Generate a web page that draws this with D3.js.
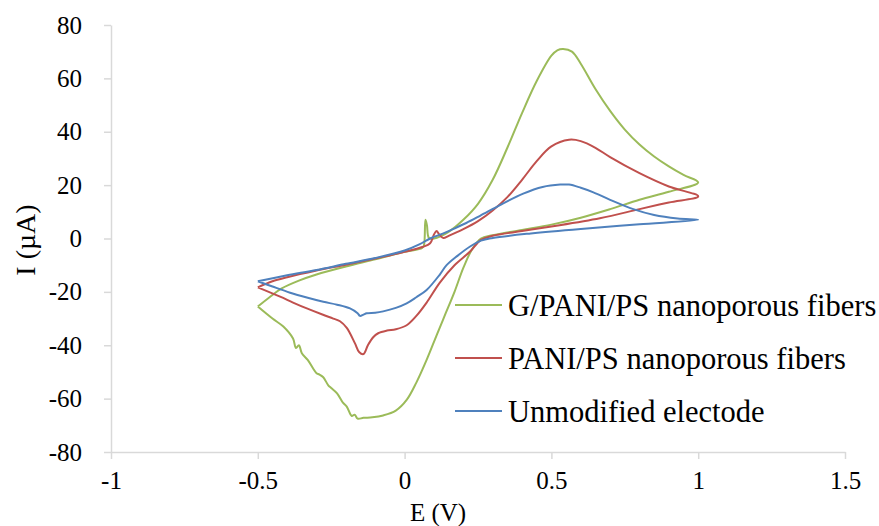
<!DOCTYPE html>
<html>
<head>
<meta charset="utf-8">
<script src="https://cdn.jsdelivr.net/npm/d3@7"></script>
<style>
  html, body { margin: 0; padding: 0; background: #fff; }
  svg { display: block; }
  svg text { font-family: "Liberation Serif", "Times New Roman", Times, "DejaVu Serif", serif; }
</style>
</head>
<body>
<svg id="chart" width="879" height="526"></svg>
<script>
// Cyclic voltammograms: [E (V), I (µA)] in scan order
const gPaniPs = [
  [-0.5,-25.5],[-0.46,-22],[-0.42,-18.8],[-0.36,-15.8],[-0.3,-13.5],[-0.2,-10.5],[-0.1,-7.8],[0,-5],
  [0.06,-3.5],[0.066,-2.5],[0.071,7],[0.076,5],[0.083,0.2],[0.1,0],[0.15,2.5],[0.2,7],[0.25,13],
  [0.3,22],[0.35,34],[0.4,47],[0.45,59],[0.5,68.5],[0.52,70.5],[0.54,71],[0.57,70],[0.6,65.5],
  [0.65,56],[0.7,47.8],[0.75,40.8],[0.8,35.2],[0.85,30.7],[0.9,27],[0.95,23.8],[1.0,21],
  [0.9,17.5],[0.8,14.5],[0.7,11],[0.6,7.8],[0.5,5.2],[0.4,3.2],[0.3,1.2],[0.26,0],[0.23,-4],
  [0.2,-11],[0.17,-20],[0.14,-28],[0.11,-36],[0.075,-45.5],[0.04,-54],[0.007,-60.5],[-0.03,-64.5],
  [-0.073,-66.3],[-0.11,-67],[-0.14,-67.2],[-0.16,-67.5],[-0.17,-66],[-0.18,-66.5],[-0.197,-63],
  [-0.21,-61.5],[-0.23,-58],[-0.25,-56],[-0.26,-55],[-0.277,-52],[-0.29,-51],[-0.3,-50.5],
  [-0.31,-49],[-0.33,-45.5],[-0.35,-43],[-0.36,-40],[-0.37,-41],[-0.38,-37.5],[-0.413,-33],
  [-0.45,-30],[-0.5,-25.5]
];
const paniPs = [
  [-0.5,-18.3],[-0.45,-16],[-0.4,-14.5],[-0.3,-12],[-0.2,-9.8],[-0.1,-7.5],[0,-5],[0.06,-3.2],
  [0.087,-1.8],[0.1,1.5],[0.109,2.8],[0.118,1.5],[0.132,0.2],[0.15,1],[0.2,3.5],[0.25,6.5],
  [0.3,10.5],[0.35,15.5],[0.4,22],[0.45,29],[0.5,34.5],[0.56,37],[0.6,36.5],[0.65,34],
  [0.7,30.5],[0.8,24.5],[0.9,19.5],[1.0,15.8],
  [0.9,13.5],[0.8,11],[0.665,7.6],[0.5,4.5],[0.4,2.8],[0.3,1],[0.26,-0.5],[0.223,-4.9],
  [0.17,-10],[0.12,-16.5],[0.075,-24],[0.04,-29],[0.007,-32.5],[-0.03,-34],[-0.06,-34.5],
  [-0.09,-35.5],[-0.107,-37],[-0.125,-40],[-0.14,-43.3],[-0.155,-42.5],[-0.169,-39.3],
  [-0.197,-33.5],[-0.22,-31],[-0.243,-30],[-0.28,-28.5],[-0.333,-26.2],[-0.38,-24],
  [-0.424,-21.8],[-0.5,-18.3]
];
const unmodified = [
  [-0.5,-16],[-0.4,-13.8],[-0.3,-11.8],[-0.2,-9.5],[-0.1,-7.3],[0,-4.5],[0.05,-2.2],[0.087,0],
  [0.13,1.8],[0.165,3.5],[0.21,5.8],[0.257,8.5],[0.33,12.8],[0.404,16.8],[0.47,19.3],[0.53,20.2],
  [0.56,20.2],[0.6,19],[0.643,17.3],[0.7,14.5],[0.779,11],[0.85,8.8],[0.93,7.5],[1.0,7],
  [0.8,5.3],[0.6,3.6],[0.43,1.9],[0.3,0.2],[0.26,-0.8],[0.223,-3],[0.18,-6.5],[0.143,-10],
  [0.12,-13.5],[0.075,-19.3],[0.04,-22],[0.007,-24.3],[-0.03,-26],[-0.073,-27.3],[-0.1,-27.8],
  [-0.129,-28],[-0.14,-28.5],[-0.152,-29],[-0.16,-28],[-0.186,-26.2],[-0.23,-24.8],[-0.277,-23.7],
  [-0.33,-22.2],[-0.39,-20.3],[-0.45,-18],[-0.5,-16]
];

const seriesNames = ["G/PANI/PS nanoporous fibers", "PANI/PS nanoporous fibers", "Unmodified electode"];
const seriesColors = ["#9bbb59", "#c0504d", "#4f81bd"];
const xTicks = [-1, -0.5, 0, 0.5, 1, 1.5];
const yTicks = [-80, -60, -40, -20, 0, 20, 40, 60, 80];
const xTitle = "E (V)";
const yTitle = "I (µA)";

const serif = '"Liberation Serif", "Times New Roman", Times, "DejaVu Serif", serif';
const svg = d3.select("#chart");
const x = d3.scaleLinear().domain([-1, 1.5]).range([111, 845]);
const y = d3.scaleLinear().domain([-80, 80]).range([452, 25]);
const axisColor = "#d9d9d9";

// x axis at the bottom of the plot
const gx = svg.append("g").attr("transform", `translate(0,${y(-80)})`)
  .call(d3.axisBottom(x).tickValues(xTicks).tickSize(7).tickSizeOuter(0).tickPadding(12)
    .tickFormat(d => String(d)));
gx.attr("font-family", serif);
gx.select(".domain").attr("stroke", axisColor).attr("stroke-width", 1.5);
gx.selectAll(".tick line").attr("stroke", axisColor).attr("stroke-width", 1.5);
gx.selectAll(".tick text").attr("fill", "#000").style("font-size", "25px");

// y axis on the left
const gy = svg.append("g").attr("transform", `translate(${x(-1)},0)`)
  .call(d3.axisLeft(y).tickValues(yTicks).tickSize(7).tickSizeOuter(0).tickPadding(22)
    .tickFormat(d => String(d)));
gy.attr("font-family", serif);
gy.select(".domain").attr("stroke", axisColor).attr("stroke-width", 1.5);
gy.selectAll(".tick line").attr("stroke", axisColor).attr("stroke-width", 1.5);
gy.selectAll(".tick text").attr("fill", "#000").style("font-size", "25px");

// axis titles
svg.append("text").attr("x", 438).attr("y", 521).attr("text-anchor", "middle")
  .style("font-size", "25px").text(xTitle);
svg.append("text").attr("transform", `translate(35,240) rotate(-90)`)
  .attr("text-anchor", "middle").style("font-size", "28px").text(yTitle);

// curves
const line = d3.line().x(d => x(d[0])).y(d => y(d[1])).curve(d3.curveCatmullRom.alpha(0.5));
const data = [gPaniPs, paniPs, unmodified];
svg.append("g").selectAll("path").data(data).join("path")
  .attr("d", line).attr("fill", "none")
  .attr("stroke", (d, i) => seriesColors[i]).attr("stroke-width", 2)
  .attr("stroke-linejoin", "round");

// legend
const legend = svg.append("g").selectAll("g").data(seriesNames).join("g")
  .attr("transform", (d, i) => `translate(455,${305 + i * 53})`);
legend.append("line").attr("x1", 0).attr("x2", 47).attr("y1", 0).attr("y2", 0)
  .attr("stroke", (d, i) => seriesColors[i]).attr("stroke-width", 2);
legend.append("text").attr("x", 53).attr("y", 0).attr("dy", "0.35em")
  .style("font-size", "30.5px").attr("fill", "#000").text(d => d);
</script>
</body>
</html>
